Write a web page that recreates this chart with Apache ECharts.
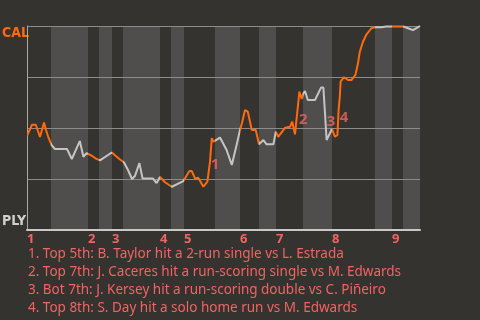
<!DOCTYPE html>
<html><head><meta charset="utf-8">
<script src="https://cdn.jsdelivr.net/npm/echarts@6/dist/echarts.min.js"></script>
<style>html,body{margin:0;padding:0;background:#353330}#c{width:480px;height:320px}</style>
</head><body><div id="c"></div>
<script>
// half-inning boundaries (game progress units): top1, bot1, top2, ... end
const halfStarts = [0,6,15.25,18,21.25,24,33.25,36,39.25,47,53.25,58,62.25,69,76.25,87,91.25,94,98.25];
const inningLabels = ['1','2','3','4','5','6','7','8','9'];
// [progress, CAL win probability %]
const progress = [0,1.25,2.2,3.25,4.25,4.75,5.4,6.1,7,10,11.2,13.2,14.1,14.9,15.25,16.2,17.25,18.25,21.2,21.25,22.8,24.25,25.25,26.25,27,28.1,28.9,31.5,32.4,33.25,34.5,36.2,39.1,39.4,40.6,41.2,42,42.8,44.1,45.1,45.75,46.2,46.6,47.25,48.25,49.9,51.2,52.4,53.25,53.75,54.5,55.2,56.2,57.2,58,59.1,59.9,61.6,62.2,62.8,64.5,65.75,66.3,67,67.4,68.1,68.7,69,69.5,70.2,72,73.5,74.1,74.5,74.9,75.3,76.25,77,77.6,77.9,78.2,78.4,79.25,80.25,81.1,82.1,82.75,83.2,84,84.8,86.1,87,88.6,89.8,91.25,94,95.25,96.5,97.75,98.25];
const winProb = [46.1,51.6,51.6,45.6,52.7,49.0,45.1,41.7,39.7,39.7,34.8,43.6,35.9,37.7,38.4,36.4,35.0,34.1,38.0,38.1,35.3,33.1,29.4,25.0,26.5,32.8,25.2,25.2,23.0,26.0,23.4,21.2,24.0,24.5,28.9,28.9,25.3,25.6,21.2,23.7,33.5,45.0,43.3,44.1,45.3,39.2,31.9,41.7,49.0,52.5,58.8,58.0,49.0,49.0,42.0,44.1,42.0,42.0,48.2,45.7,50.1,50.6,53.1,46.9,47.4,67.8,64.2,66.7,68.1,63.7,63.7,69.8,69.8,57.2,44.1,43.3,49.5,45.7,46.6,58.8,65.2,72.7,74.9,73.5,73.5,76.0,81.7,87.4,92.3,95.6,98.9,99.4,99.4,99.7,99.7,99.8,98.9,98.0,99.4,100];
const noteLabels = ['1','2','3','4'];
const notePos = [[47,31.9],[69.1,53.9],[76,53.1],[79.25,54.9]];
const footnotes = [
  '1. Top 5th: B. Taylor hit a 2-run single vs L. Estrada',
  '2. Top 7th: J. Caceres hit a run-scoring single vs M. Edwards',
  '3. Bot 7th: J. Kersey hit a run-scoring double vs C. Piñeiro',
  '4. Top 8th: S. Day hit a solo home run vs M. Edwards'
];

const ORANGE = '#ff6a0a', GRAY = '#c4c4c4', PINK = '#f06462';
const FONT = '"Noto Sans", sans-serif';
const CFONT = '"DejaVu Sans Condensed", "Noto Sans", sans-serif';
const bands = [];
const pieces = [];
for (let i = 0; i < halfStarts.length - 1; i++) {
  if (i % 2 === 1) bands.push([{xAxis: halfStarts[i]}, {xAxis: halfStarts[i+1]}]);
  const p = {gte: halfStarts[i], color: i % 2 === 0 ? ORANGE : GRAY};
  if (i < halfStarts.length - 2) p.lt = halfStarts[i+1]; else p.lte = halfStarts[i+1] + 1;
  pieces.push(p);
}
const inningStarts = halfStarts.filter((v, i) => i % 2 === 0 && i < 18);

const chart = echarts.init(document.getElementById('c'));
chart.setOption({
  backgroundColor: '#353330',
  animation: false,
  grid: {left: 27, right: 60, top: 26, bottom: 90},
  xAxis: {
    type: 'value', min: 0, max: halfStarts[halfStarts.length-1], z: 2,
    axisLine: {show: true, lineStyle: {color: '#c8c8c8', width: 2}},
    axisTick: {show: false}, splitLine: {show: false},
    axisLabel: {
      customValues: inningStarts, align: 'left', margin: 3,
      color: PINK, fontWeight: 'bold', fontSize: 13, fontFamily: FONT,
      formatter: v => inningLabels[inningStarts.indexOf(v)]
    }
  },
  yAxis: {
    type: 'value', min: 0, max: 100, interval: 25, z: 2,
    axisLine: {show: true, lineStyle: {color: '#a8a8a8', width: 1}},
    axisTick: {show: false}, axisLabel: {show: false},
    splitLine: {lineStyle: {color: '#8c8c8a', width: 1}}
  },
  visualMap: {show: false, type: 'piecewise', dimension: 0, seriesIndex: 1, pieces: pieces},
  series: [
    {type: 'line', data: [], z: 1, silent: true,
     markArea: {silent: true, itemStyle: {color: '#504e4c'}, data: bands}},
    {type: 'line', z: 5, symbol: 'none', lineStyle: {width: 2},
     data: progress.map((x, i) => [x, winProb[i]])},
    {type: 'scatter', z: 6, symbolSize: 1, itemStyle: {color: 'rgba(0,0,0,0)'},
     label: {show: true, position: 'inside', color: PINK, fontSize: 15, fontWeight: 'bold', fontFamily: FONT,
             formatter: p => noteLabels[p.dataIndex]},
     data: notePos}
  ],
  graphic: [
    {type: 'text', left: 2, top: 26, style: {text: 'CAL', fill: ORANGE, font: 'bold 14px ' + CFONT}},
    {type: 'text', left: 2, top: 214, style: {text: 'PLY', fill: '#d0d0d0', font: 'bold 14px ' + CFONT}},
    {type: 'text', left: 28, top: 245, style: {text: footnotes.join('\n'), fill: PINK, font: '13.5px ' + FONT, lineHeight: 18}}
  ]
});
</script></body></html>
